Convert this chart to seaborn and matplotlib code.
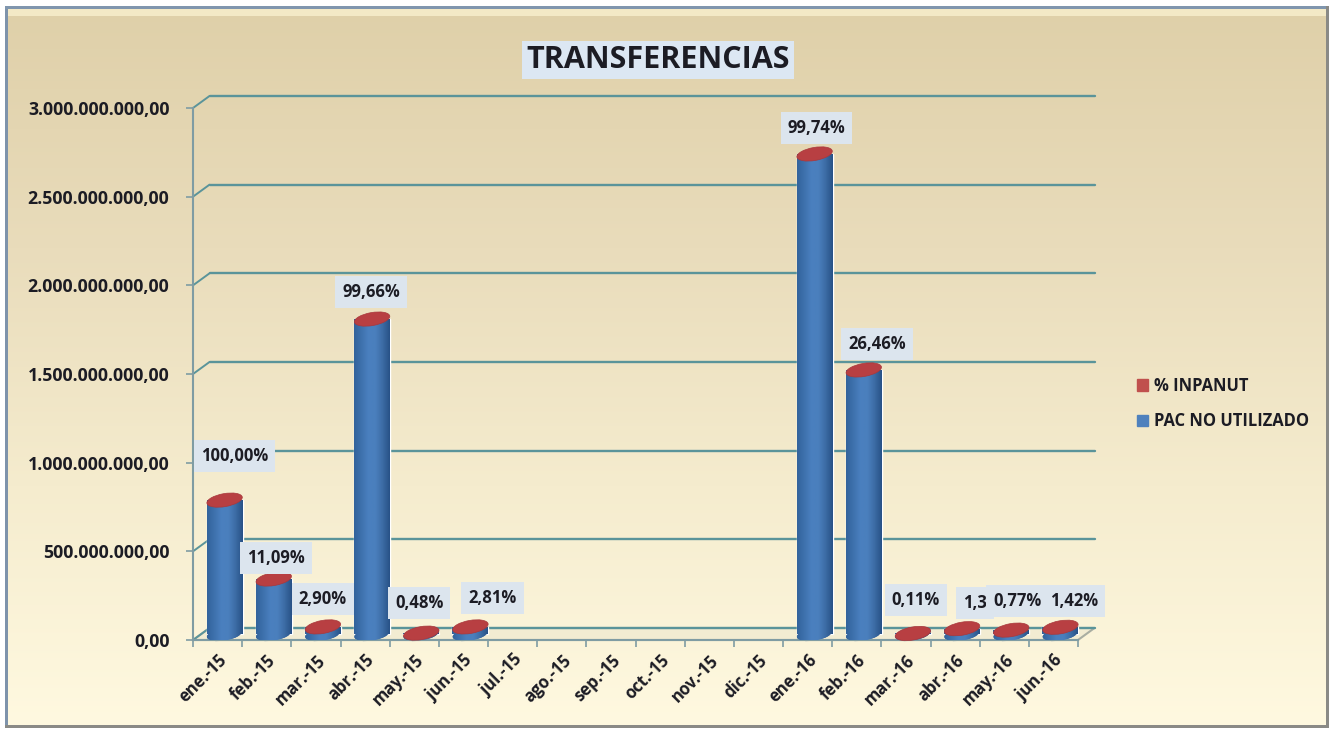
import numpy as np
import pandas as pd
import matplotlib
matplotlib.use("Agg")
import matplotlib.pyplot as plt
import seaborn as sns
from matplotlib.colors import LinearSegmentedColormap
from matplotlib.patches import Ellipse, Patch, Rectangle, Polygon
from matplotlib.transforms import Affine2D, IdentityTransform

# Data
months = ["ene.-15", "feb.-15", "mar.-15", "abr.-15", "may.-15", "jun.-15",
          "jul.-15", "ago.-15", "sep.-15", "oct.-15", "nov.-15", "dic.-15",
          "ene.-16", "feb.-16", "mar.-16", "abr.-16", "may.-16", "jun.-16"]
pac_no_utilizado = [755e6, 310e6, 40e6, 1776e6, 5e6, 40e6,
                    0, 0, 0, 0, 0, 0,
                    2707e6, 1489e6, 3e6, 30e6, 22e6, 38e6]
pct_inpanut = ["100,00%", "11,09%", "2,90%", "99,66%", "0,48%", "2,81%",
               None, None, None, None, None, None,
               "99,74%", "26,46%", "0,11%", "1,3", "0,77%", "1,42%"]
y_ticks = [0, 500e6, 1000e6, 1500e6, 2000e6, 2500e6, 3000e6]
y_labels = ["0,00", "500.000.000,00", "1.000.000.000,00", "1.500.000.000,00",
            "2.000.000.000,00", "2.500.000.000,00", "3.000.000.000,00"]

# label offset from the top of each bar, in pixels
label_offsets = [(10, 44), (2, 21), (0, 28), (-1, 27), (-2, 30), (22, 29),
                 (0, 0), (0, 0), (0, 0), (0, 0), (0, 0), (0, 0),
                 (2, 26), (13, 26), (3, 33), (13, 26), (6, 29), (14, 26)]

W, H = 1333, 730
BLUE = "#4F81BD"
RED = "#B83F42"
TEAL = "#5A949A"
AXIS = "#7F9CA3"
TEXT = "#1C1C24"
BOX = "#DCE5EE"

sns.set_theme(style="white")
plt.rcParams["font.family"] = ["Open Sans", "DejaVu Sans"]
plt.rcParams["font.weight"] = "bold"

fig = plt.figure(figsize=(W / 100, H / 100), dpi=100, facecolor="white")

# Panel background and bevelled frame
bg = fig.add_axes([0, 0, 1, 1], zorder=0)
bg.set_xlim(0, W)
bg.set_ylim(H, 0)
bg.axis("off")
panel = LinearSegmentedColormap.from_list(
    "panel", ["#DFD0A9", "#E9DCBB", "#F5ECCE", "#FFF9E0"])
bg.imshow(np.linspace(0, 1, 256).reshape(-1, 1), cmap=panel, aspect="auto",
          extent=(8, W - 7, H - 4, 8), zorder=1)
bg.set_xlim(0, W)
bg.set_ylim(H, 0)
bg.add_patch(Rectangle((8, 8), W - 15, 8, color="#F3E9C6", lw=0, zorder=2))
bg.add_patch(Rectangle((5, 6), 3, H - 9, color="#7E93AB", lw=0, zorder=3))
bg.add_patch(Rectangle((5, 6), W - 11, 2.5, color="#8096AE", lw=0, zorder=3))
bg.add_patch(Rectangle((W - 7, 6), 3, H - 9, color="#8A8A86", lw=0, zorder=3))
bg.add_patch(Rectangle((5, H - 5), W - 9, 3, color="#8A8A86", lw=0, zorder=3))

# Front plane of the chart
ax = fig.add_axes([193 / W, (H - 640) / H, (1078 - 193) / W, (640 - 108) / H],
                  zorder=1)
ax.patch.set_alpha(0)

df = pd.DataFrame({"mes": months, "pac": pac_no_utilizado})
sns.barplot(data=df, x="mes", y="pac", color=BLUE, saturation=1, width=0.73,
            ax=ax, zorder=3)
bars = list(ax.patches)

ax.set_xlim(-0.5, len(months) - 0.5)
ax.set_ylim(0, 3e9)
ax.set_xlabel("")
ax.set_ylabel("")

dx_depth, dy_depth = 16.5, 12
wall = ax.transData + Affine2D().translate(dx_depth, dy_depth)
x0, x1 = ax.get_xlim()

# floor, side connectors and wall gridlines
p0 = ax.transData.transform((x0, 0))
p1 = ax.transData.transform((x1, 0))
ax.add_patch(Polygon([p0, p1, p1 + (dx_depth, dy_depth), p0 + (dx_depth, dy_depth)],
                     closed=True, fc="#F2ECD2", ec="#A9AEA2", lw=1.5,
                     transform=IdentityTransform(), clip_on=False, zorder=1))
for t in y_ticks:
    ax.plot([x0, x1], [t, t], color=TEAL, lw=1.7, transform=wall,
            clip_on=False, zorder=1.5)
    p = ax.transData.transform((x0, t))
    ax.plot([p[0], p[0] + dx_depth], [p[1], p[1] + dy_depth], color=TEAL, lw=1.4,
            transform=IdentityTransform(), clip_on=False, zorder=1.5)

# Cylinder look on top of the seaborn bars
cyl = LinearSegmentedColormap.from_list(
    "cyl", ["#33639C", "#3E71AD", "#4A80BF", "#4A7FBD", "#3C6CA5", "#285287"])
shade = np.linspace(0, 1, 64).reshape(1, -1)
shift = Affine2D().translate(7, 6)
cap_h, tilt = 13, 10

for i, patch in enumerate(bars):
    if pct_inpanut[i] is None:
        patch.set_visible(False)
        continue
    patch.set_transform(ax.transData + shift)
    patch.set_clip_on(False)
    left = patch.get_x()
    right = left + patch.get_width()
    (lx, by) = (ax.transData + shift).transform((left, 0))
    (rx, ty) = (ax.transData + shift).transform((right, pac_no_utilizado[i]))
    cx = (lx + rx) / 2

    base = Ellipse((cx, by), rx - lx, cap_h, angle=tilt, fc="#33639C", lw=0,
                   transform=IdentityTransform(), clip_on=False, zorder=2.5)
    ax.add_patch(base)
    for clip in (base, patch):
        im = ax.imshow(shade, cmap=cyl, aspect="auto", interpolation="bilinear",
                       extent=(lx, rx, by - cap_h, ty + cap_h),
                       transform=IdentityTransform(), zorder=3.2)
        im.set_clip_path(clip)
    ax.add_patch(Ellipse((cx, ty), rx - lx, cap_h, angle=tilt, fc=RED, ec="#A8383C",
                         lw=0.5, transform=IdentityTransform(), clip_on=False,
                         zorder=4))

ax.set_xlim(-0.5, len(months) - 0.5)
ax.set_ylim(0, 3e9)

# Value labels
for i, label in enumerate(pct_inpanut):
    if label is None:
        continue
    dx, dy = label_offsets[i]
    ax.annotate(label, xy=(i, pac_no_utilizado[i]),
                xytext=(dx + 7, dy + 6), textcoords="offset pixels",
                ha="center", va="center", fontsize=12, color=TEXT,
                annotation_clip=False, zorder=6 + i * 0.01,
                bbox=dict(boxstyle="square,pad=0.42", fc=BOX, ec="none"))

# Axes, ticks and labels
sns.despine(ax=ax, top=True, right=True)
for side in ("left", "bottom"):
    ax.spines[side].set_color(AXIS)
    ax.spines[side].set_linewidth(1.5)
ax.set_yticks(y_ticks)
ax.set_yticklabels(y_labels, fontsize=12.8, color=TEXT)
ax.set_xticks(np.arange(len(months) + 1) - 0.5)
ax.set_xticklabels([])
ax.set_xticks(np.arange(len(months)), minor=True)
ax.set_xticklabels(months, minor=True, rotation=45, ha="right",
                   rotation_mode="anchor", fontsize=12, color=TEXT)
ax.tick_params(axis="x", which="major", bottom=True, length=5, width=1.2, color=AXIS)
ax.tick_params(axis="x", which="minor", bottom=False, length=0, pad=8)
ax.tick_params(axis="y", left=True, length=5, width=1.2, color=AXIS, pad=12)

# Title
fig.text(658 / W, 1 - 60 / H, "TRANSFERENCIAS", ha="center", va="center",
         fontsize=22, color=TEXT, zorder=5,
         bbox=dict(boxstyle="square,pad=0.13", fc="#DCE7F3", ec="none"))

# Legend
handles = [Patch(color="#C0504D", label="% INPANUT"),
           Patch(color=BLUE, label="PAC NO UTILIZADO")]
fig.legend(handles=handles, loc="upper left", frameon=False, fontsize=11.9,
           bbox_to_anchor=(1122 / W, 1 - 362 / H), handlelength=0.7,
           handleheight=0.7, handletextpad=0.35, labelspacing=1.05,
           labelcolor=TEXT)

fig.savefig("out.png", dpi=100)
